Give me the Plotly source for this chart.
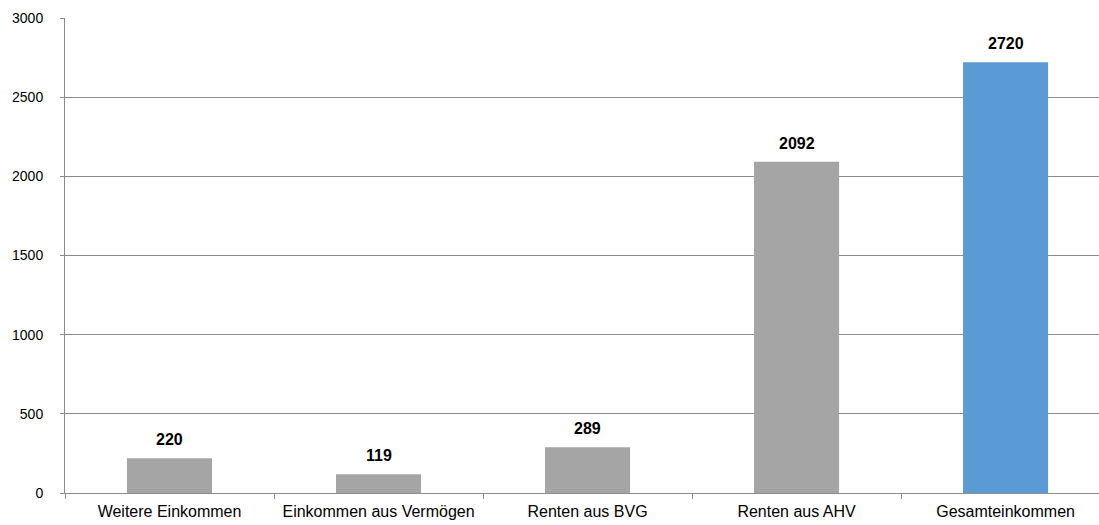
import plotly.graph_objects as go

categories = ["Weitere Einkommen", "Einkommen aus Vermögen", "Renten aus BVG", "Renten aus AHV", "Gesamteinkommen"]
values = [220, 119, 289, 2092, 2720]
colors = ["#A5A5A5", "#A5A5A5", "#A5A5A5", "#A5A5A5", "#5B9BD5"]
y_ticks = [0, 500, 1000, 1500, 2000, 2500, 3000]

fig = go.Figure()
fig.add_trace(go.Bar(x=categories, y=values, marker=dict(color=colors, line=dict(width=0)),
                     width=0.407, hoverinfo="x+y"))

for c, v in zip(categories, values):
    fig.add_annotation(x=c, y=v, text="<b>%d</b>" % v, showarrow=False, yanchor="bottom",
                       yshift=8, font=dict(family="Liberation Sans, Arial", size=16, color="black"))

fig.update_layout(
    width=1099, height=525,
    margin=dict(l=65, r=0, t=18, b=32),
    plot_bgcolor="white", paper_bgcolor="white",
    showlegend=False,
    font=dict(family="Liberation Sans, Arial", size=15, color="black"),
    bargap=0.593,
)
fig.update_xaxes(range=[-0.5, 4.447], showline=True, linecolor="#8C8C8C", linewidth=1,
                 ticks="outside", tickson="boundaries", ticklen=5, tickcolor="#8C8C8C",
                 showgrid=False, tickfont=dict(size=16), ticklabelstandoff=4, fixedrange=True)
fig.update_yaxes(range=[0, 3000], tickvals=y_ticks, showline=True, linecolor="#8C8C8C", linewidth=1,
                 ticks="outside", ticklen=4, tickcolor="#8C8C8C",
                 showgrid=True, gridcolor="#8C8C8C", gridwidth=1, zeroline=False,
                 tickfont=dict(size=14), ticklabelstandoff=14)

fig.write_html("out.html")
